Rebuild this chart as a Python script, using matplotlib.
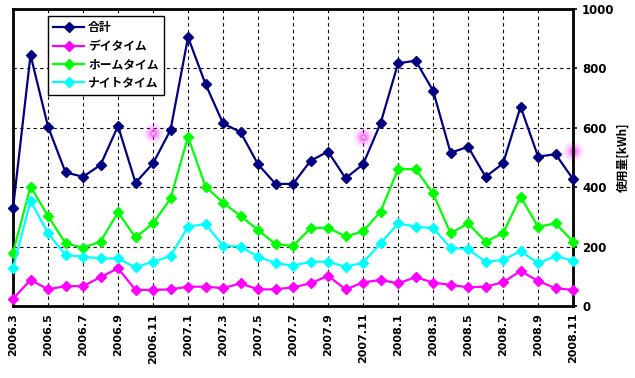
import numpy as np
import matplotlib
matplotlib.use("Agg")
import matplotlib.pyplot as plt

plt.rcParams['font.family'] = ['DejaVu Sans', 'Noto Sans CJK JP']
JP = ['Noto Sans CJK JP', 'DejaVu Sans']

# months 2006.3 - 2008.11
months = ["2006.3", "2006.4", "2006.5", "2006.6", "2006.7", "2006.8", "2006.9",
          "2006.10", "2006.11", "2006.12", "2007.1", "2007.2", "2007.3", "2007.4",
          "2007.5", "2007.6", "2007.7", "2007.8", "2007.9", "2007.10", "2007.11",
          "2007.12", "2008.1", "2008.2", "2008.3", "2008.4", "2008.5", "2008.6",
          "2008.7", "2008.8", "2008.9", "2008.10", "2008.11"]

total = [329, 845, 604, 450, 435, 475, 606, 415, 480, 593, 905, 747, 615, 585,
         477, 411, 411, 489, 520, 430, 477, 615, 817, 826, 725, 516, 536, 435,
         480, 671, 503, 511, 427]
day = [24, 88, 56, 67, 67, 97, 127, 54, 54, 56, 65, 65, 60, 76, 56, 56, 63, 76,
       102, 56, 79, 88, 76, 97, 79, 71, 63, 65, 80, 118, 84, 60, 54]
home = [180, 402, 303, 211, 196, 217, 315, 231, 278, 362, 570, 402, 348, 303,
        256, 208, 202, 262, 264, 234, 251, 318, 461, 461, 379, 245, 278, 217,
        245, 368, 267, 278, 217]
night = [127, 354, 245, 172, 166, 160, 160, 130, 149, 168, 267, 276, 203, 200,
         166, 144, 136, 149, 149, 132, 146, 211, 278, 267, 262, 196, 191, 149,
         155, 185, 144, 168, 153]

series = [("合計", total, "#000080"),
          ("デイタイム", day, "#ff00ff"),
          ("ホームタイム", home, "#00ff00"),
          ("ナイトタイム", night, "#00ffff")]

# pink glow spots on the picture
glow_x = [8, 20, 32]
glow_y = [582, 569, 522]

fig = plt.figure(figsize=(6.35, 3.78), dpi=100)
ax = fig.add_axes([0.0205, 0.1905, 0.882, 0.7857])

x = np.arange(len(months))
for name, vals, col in series:
    ax.plot(x, vals, color=col, lw=1.6, marker='D', ms=5.5, label=name,
            clip_on=False, zorder=3)

# glow
for s, a in [(260, 0.05), (170, 0.09), (100, 0.16), (50, 0.3), (18, 0.55)]:
    ax.scatter(glow_x, glow_y, s=s, color='#ff33ff', alpha=a, lw=0,
               zorder=2, clip_on=False)
ax.scatter(glow_x, glow_y, s=6, color='#ffccff', lw=0, zorder=2, clip_on=False)

ax.set_xlim(0, len(months) - 1)
ax.set_ylim(0, 1000)
ax.set_xticks(x[::2])
ax.set_xticklabels(months[::2], rotation=90, fontsize=8, fontweight='bold')
ax.set_yticks(np.arange(0, 1001, 200))
ax.yaxis.tick_right()
ax.yaxis.set_label_position('right')
ax.tick_params(axis='y', labelsize=8.5, direction='out', length=3, width=1.2)
ax.tick_params(axis='x', length=0, pad=5)
for lab in ax.get_yticklabels():
    lab.set_fontweight('bold')
ax.set_ylabel("使用量[kWh]", family=JP, fontsize=8.5, fontweight='bold', labelpad=1,
              rotation=90)

ax.grid(True, color='black', ls=(0, (3, 3)), lw=0.8)
for sp in ax.spines.values():
    sp.set_linewidth(2)
    sp.set_color('black')

leg = ax.legend(loc='upper left', bbox_to_anchor=(0.0625, 0.976), borderaxespad=0,
                prop={'family': JP, 'weight': 'bold', 'size': 8.5},
                fancybox=False, framealpha=1, edgecolor='black', borderpad=0.45,
                labelspacing=0.45, handlelength=2.6, handletextpad=0.35)
leg.get_frame().set_linewidth(1.0)

fig.savefig("out.png", dpi=100)
